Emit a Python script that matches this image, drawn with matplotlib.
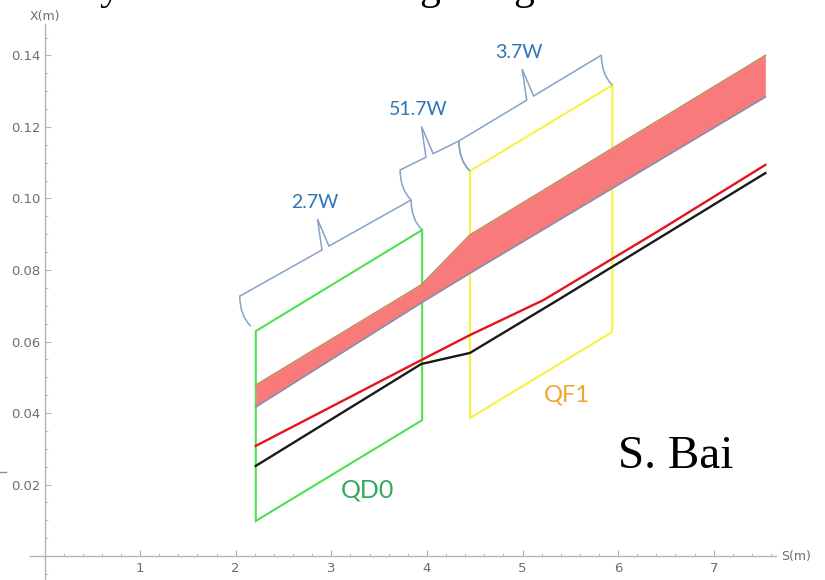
import numpy as np
import matplotlib
matplotlib.use('Agg')
import matplotlib.pyplot as plt
from matplotlib.path import Path
from matplotlib.patches import PathPatch, Polygon
from matplotlib.lines import Line2D
from matplotlib.ticker import FixedLocator, FixedFormatter

# beam envelope band (upper / lower edge)
band_s = [2.21, 3.94, 4.45, 7.54]
band_upper = [0.0478, 0.0758, 0.0898, 0.1400]
band_lower = [0.0417, 0.0708, 0.0791, 0.1284]

# single trajectories
red_s = [2.21, 3.94, 4.45, 5.22, 6.44, 7.54]
red_x = [0.0308, 0.0548, 0.0618, 0.0716, 0.0912, 0.1094]
black_s = [2.21, 3.94, 4.45, 5.37, 7.54]
black_x = [0.0252, 0.0537, 0.0568, 0.0716, 0.1071]

# quadrupole outlines
qd0_s = [2.21, 3.95]
qd0_top = [0.0629, 0.0912]
qd0_bot = [0.0098, 0.0380]
qf1_s = [4.45, 5.94]
qf1_top = [0.1077, 0.1317]
qf1_bot = [0.0386, 0.0627]

brace_labels = ['2.7W', '51.7W', '3.7W']

x_major = [1, 2, 3, 4, 5, 6, 7]
y_major = [0.02, 0.04, 0.06, 0.08, 0.10, 0.12, 0.14]
y_major_labels = ['0.02', '0.04', '0.06', '0.08', '0.10', '0.12', '0.14']

axis_gray = '#b4b4b4'
label_gray = '#6e6e6e'

fig = plt.figure(figsize=(8.25, 5.8), dpi=100)
ax = fig.add_axes([0, 0, 1, 1])
ax.set_xlim(-0.4655, 8.164)
ax.set_ylim(-0.00671, 0.15552)
ax.patch.set_alpha(0)

for side in ['top', 'right']:
    ax.spines[side].set_visible(False)
ax.spines['left'].set_position(('data', 0))
ax.spines['bottom'].set_position(('data', 0))
ax.spines['left'].set_bounds(-0.00671, 0.1488)
ax.spines['bottom'].set_bounds(-0.152, 7.652)
for side in ['left', 'bottom']:
    ax.spines[side].set_color(axis_gray)
    ax.spines[side].set_linewidth(1.0)

ax.xaxis.set_major_locator(FixedLocator(x_major))
ax.xaxis.set_minor_locator(FixedLocator(np.arange(0.2, 7.61, 0.2)))
ax.yaxis.set_major_locator(FixedLocator(y_major))
ax.yaxis.set_major_formatter(FixedFormatter(y_major_labels))
ax.yaxis.set_minor_locator(FixedLocator(np.arange(-0.005, 0.146, 0.005)))
ax.tick_params(which='major', direction='in', length=4, width=0.8, color=axis_gray,
               labelcolor=label_gray, labelsize=9.5, pad=3)
ax.tick_params(which='minor', direction='in', length=2.5, width=0.6, color=axis_gray)
ax.tick_params(axis='x', which='major', pad=4)

ax.text(0, 0.1508, 'X(m)', ha='center', va='center', fontsize=9, color=label_gray)
ax.text(7.70, 0, 'S(m)', ha='left', va='center', fontsize=9, color=label_gray)

# magnet outlines
def quad_box(s, top, bot, color):
    pts = [(s[0], bot[0]), (s[0], top[0]), (s[1], top[1]), (s[1], bot[1])]
    ax.add_patch(Polygon(pts, closed=True, fill=False, edgecolor=color, lw=1.5, zorder=2))

quad_box(qd0_s, qd0_top, qd0_bot, '#4fe04f')
quad_box(qf1_s, qf1_top, qf1_bot, '#f7f240')

# envelope
ax.fill_between(band_s, band_lower, band_upper, color='#f87a7a', lw=0, zorder=3)
ax.plot(band_s, band_upper, color='#c48a5e', lw=1.2, zorder=4)
ax.plot(band_s, band_lower, color='#8a8fae', lw=1.2, zorder=4)

ax.plot(red_s, red_x, color='#e3141c', lw=1.7, zorder=5)
ax.plot(black_s, black_x, color='#1a1a1a', lw=1.7, zorder=5)

# curly braces drawn in pixel space so their shape ignores the axis aspect
to_disp = ax.transData.transform
to_data = ax.transData.inverted().transform


def brace(d0, d1, label, hook=(-11.0, 30.0), tip=(-8.0, 29.0)):
    d0 = np.asarray(d0, float)
    d1 = np.asarray(d1, float)
    h = np.array(hook)
    c0 = d0 + h
    c1 = d1 + h
    u = (c1 - c0) / np.hypot(*(c1 - c0))
    m = (c0 + c1) / 2
    t = m + np.array(tip)
    verts = [d0, (c0[0], d0[1] + 0.35 * h[1]), c0,
             m - 4 * u, t, m + 4 * u, c1,
             (c1[0], d1[1] + 0.35 * h[1]), d1]
    codes = [Path.MOVETO, Path.CURVE3, Path.CURVE3,
             Path.LINETO, Path.LINETO, Path.LINETO, Path.LINETO,
             Path.CURVE3, Path.CURVE3]
    path = Path(to_data(np.array(verts)), codes)
    ax.add_patch(PathPatch(path, fill=False, edgecolor='#86a2c8', lw=1.1, zorder=6))
    lx, ly = to_data(t + np.array([-3.0, 17.0]))
    ax.text(lx, ly, label, ha='center', va='center', fontsize=14,
            family='Lato', color='#2e75b6', zorder=7)
    return c1


g_tl = to_disp((qd0_s[0], qd0_top[0])) + np.array([-5.0, 5.0])
g_tr = to_disp((qd0_s[1], qd0_top[1]))
y_tl = to_disp((qf1_s[0], qf1_top[0]))
y_tr = to_disp((qf1_s[1], qf1_top[1]))

corner = brace(g_tl, g_tr, brace_labels[0])
brace(corner, y_tl, brace_labels[1])
brace(y_tl, y_tr, brace_labels[2])

ax.text(3.38, 0.0185, 'QD0', ha='center', va='center', fontsize=18,
        family='Lato', color='#35a85c')
ax.text(5.46, 0.0450, 'QF1', ha='center', va='center', fontsize=17,
        family='Lato', color='#f2a531')
ax.text(6.60, 0.0278, 'S. Bai', ha='center', va='center', fontsize=34,
        family='Liberation Serif', color='black')

# slide title running off the top edge
for xpx, ch in [(110, 'y'), (430, 'g'), (524, 'g')]:
    fig.text(xpx / 825, 1.0 + 1 / 580, ch, ha='center', va='baseline', fontsize=30,
             family='Liberation Serif', color='black')

fig.add_artist(Line2D([0, 6 / 825], [1 - 472 / 580, 1 - 472 / 580],
                      color='#909090', lw=1.0))

fig.savefig('out.png', dpi=100)
